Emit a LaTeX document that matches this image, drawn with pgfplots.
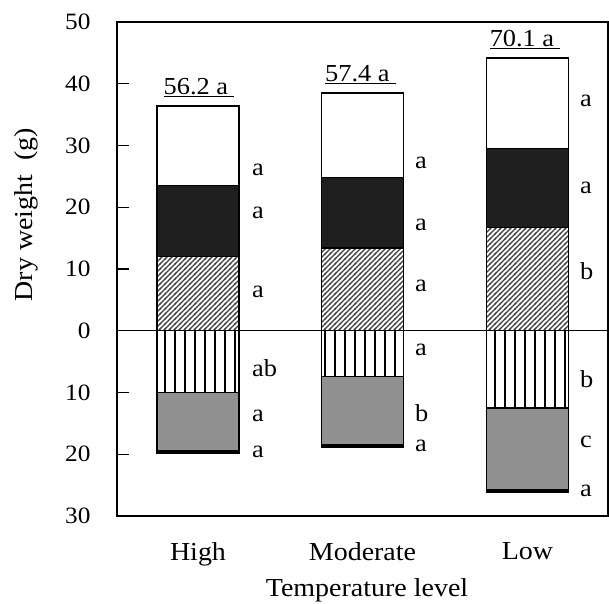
\documentclass[border=0pt]{standalone}
\usepackage{fontspec}
\setmainfont{Liberation Serif}[FakeStretch=1.08]
\usepackage{pgfplots}
\pgfplotsset{compat=1.18}
\usetikzlibrary{patterns}
\pgfdeclarepatternformonly{vstripes}{\pgfpoint{0bp}{-1bp}}{\pgfpoint{10bp}{11bp}}{\pgfpoint{10bp}{10bp}}{%
  \pgfsetlinewidth{2bp}%
  \pgfpathmoveto{\pgfpoint{5bp}{-1bp}}\pgfpathlineto{\pgfpoint{5bp}{11bp}}\pgfusepath{stroke}}
\pgfdeclarepatternformonly{diaghatch}{\pgfpoint{-1bp}{-1bp}}{\pgfpoint{6bp}{6bp}}{\pgfpoint{5bp}{5bp}}{%
  \pgfsetlinewidth{1.2bp}%
  \pgfpathmoveto{\pgfpoint{-1bp}{-1bp}}\pgfpathlineto{\pgfpoint{6bp}{6bp}}\pgfusepath{stroke}}
\begin{document}
\fontsize{25}{30}\selectfont
\begin{tikzpicture}[x=1bp,y=1bp]
\path (0,0) rectangle (609,604);
\begin{axis}[
  at={(117bp,88bp)}, anchor=south west,
  scale only axis, width=491bp, height=494bp,
  xmin=0, xmax=491, ymin=-30, ymax=50,
  axis line style={line width=1.6bp},
  ytick={-30,-20,-10,0,10,20,30,40,50},
  yticklabels={30,20,10,0,10,20,30,40,50},
  ytick pos=left, tick align=inside, major tick length=12bp,
  ytick style={line width=1.2bp, black},
  yticklabel style={font=\fontsize{23.5}{27}\selectfont, xshift=-18bp},
  xtick={81,245.5,410.5}, xticklabels={High,Moderate,Low},
  xtick style={draw=none},
  xticklabel style={font=\fontsize{26}{30}\selectfont, yshift=-6bp},
  ybar, bar width=82bp, bar shift=0pt,
  clip=false,
  every axis plot/.append style={draw=black, line width=1.5bp},
]
% positive components (drawn from 0, largest first)
\addplot[fill=white] coordinates {(81,36.4) (245.5,38.5) (410.5,44.2)};
\addplot[fill=black!88] coordinates {(81,23.5) (245.5,24.8) (410.5,29.5)};
\addplot[fill=white, postaction={pattern=diaghatch, pattern color=black!75}] coordinates {(81,12.0) (245.5,13.4) (410.5,16.7)};
% negative components
\addplot[fill=black] coordinates {(81,-19.9) (245.5,-18.9) (410.5,-26.1)};
\addplot[fill=black!43] coordinates {(81,-19.4) (245.5,-18.5) (410.5,-25.7)};
\addplot[fill=white, postaction={pattern=vstripes, pattern color=black}] coordinates {(81,-10.0) (245.5,-7.4) (410.5,-12.5)};
\draw[line width=1.5bp] (axis cs:0,0) -- (axis cs:491,0);
% significance letters
\begin{scope}[every node/.style={anchor=west, inner sep=0pt, font=\fontsize{24.5}{28}\selectfont}]
\node at (axis cs:135,26.1) {a};
\node at (axis cs:135,19.1) {a};
\node at (axis cs:135,6.3) {a};
\node at (axis cs:135,-6.0) {ab};
\node at (axis cs:135,-13.8) {a};
\node at (axis cs:135,-19.6) {a};
\node at (axis cs:298,27.2) {a};
\node at (axis cs:298,17.2) {a};
\node at (axis cs:298,7.3) {a};
\node at (axis cs:298,-3.1) {a};
\node at (axis cs:298,-13.4) {b};
\node at (axis cs:298,-18.6) {a};
\node at (axis cs:463,37.2) {a};
\node at (axis cs:463,23.2) {a};
\node at (axis cs:463,9.6) {b};
\node at (axis cs:463,-7.9) {b};
\node at (axis cs:463,-18.0) {c};
\node at (axis cs:463,-25.9) {a};
\end{scope}
\begin{scope}[every node/.style={anchor=south, inner sep=0pt, font=\fontsize{24.5}{28}\selectfont}]
\node at (axis cs:82,37.9) {\underline{56.2 a\hspace{0.25em}}};
\node at (axis cs:243.5,40.0) {\underline{57.4 a\hspace{0.25em}}};
\node at (axis cs:408,45.7) {\underline{70.1 a\hspace{0.25em}}};
\end{scope}
\node[rotate=90, font=\fontsize{26}{30}\selectfont] at (axis cs:-91,18.8) {Dry weight\ \ (g)};
\node[anchor=base, font=\fontsize{26}{30}\selectfont] at (axis cs:250,-43.0) {Temperature level};
\end{axis}
\pgfresetboundingbox
\useasboundingbox (0,0) rectangle (609,604);
\end{tikzpicture}
\end{document}
